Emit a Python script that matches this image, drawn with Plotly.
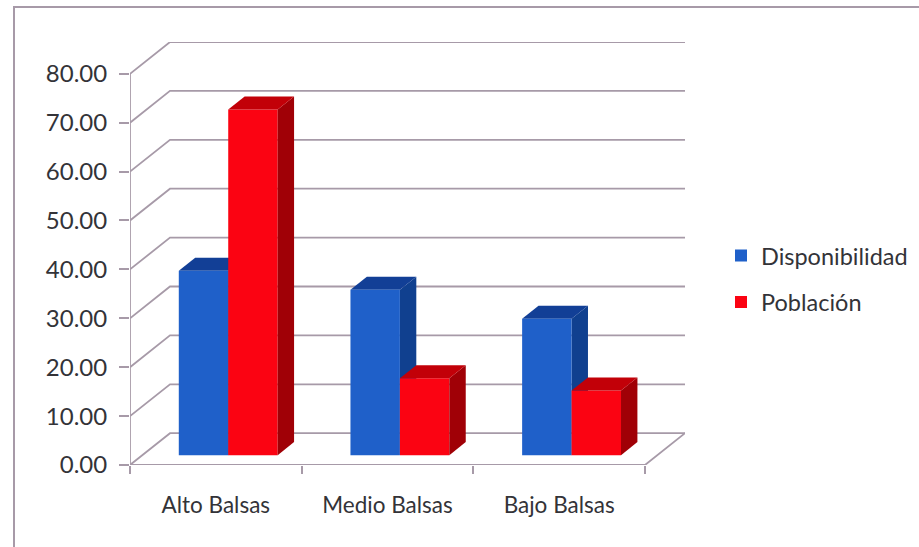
import plotly.graph_objects as go

categories = ["Alto Balsas", "Medio Balsas", "Bajo Balsas"]
disponibilidad = [37.7, 33.8, 27.9]
poblacion = [70.7, 15.7, 13.2]
y_ticks = [0, 10, 20, 30, 40, 50, 60, 70, 80]

# perspective of the chart, in axis units
DEPTH_X = 0.233
DEPTH_Y = 6.5
BAR_FRONT = 0.31
BAR_BACK = 0.72
BAR_W = 0.288
GRID = "#a79aa8"
TEXT = "#333338"
X_RANGE = [-0.5, 2.5 + DEPTH_X]
Y_RANGE = [0, 80 + DEPTH_Y]
idx = list(range(len(categories)))

fig = go.Figure()


def line(xs, ys, color=GRID, width=1.8):
    fig.add_trace(go.Scatter(x=xs, y=ys, mode="lines", showlegend=False, hoverinfo="skip",
                             line=dict(color=color, width=width)))


# walls and gridlines
for v in y_ticks:
    line([-0.5, -0.5 + DEPTH_X, 2.5 + DEPTH_X], [v, v + DEPTH_Y, v + DEPTH_Y])
line([-0.5, -0.5], [0, 80])
line([-0.5, 2.5, 2.5 + DEPTH_X], [0, 0, DEPTH_Y])


def poly(xs, ys, color, axes):
    fig.add_trace(go.Scatter(x=xs + xs[:1], y=ys + ys[:1], mode="lines", fill="toself",
                             fillcolor=color, line=dict(width=0, color=color),
                             showlegend=False, hoverinfo="skip", xaxis=axes[0], yaxis=axes[1]))


def box_faces(values, left_shift, side_col, top_col, axes):
    for i, v in zip(idx, values):
        l = i + left_shift + BAR_FRONT * DEPTH_X
        r = l + BAR_W
        y0 = BAR_FRONT * DEPTH_Y
        t = y0 + v
        dx = (BAR_BACK - BAR_FRONT) * DEPTH_X
        dy = (BAR_BACK - BAR_FRONT) * DEPTH_Y
        poly([r, r + dx, r + dx, r], [y0, y0 + dy, t + dy, t], side_col, axes)
        poly([l, l + dx, r + dx, r], [t, t + dy, t + dy, t], top_col, axes)


# blue depth faces sit behind everything in front
box_faces(disponibilidad, -BAR_W, "#10408f", "#123f96", ("x", "y"))

# front faces
shift = [i + BAR_FRONT * DEPTH_X for i in idx]
base = [BAR_FRONT * DEPTH_Y] * len(idx)
fig.add_trace(go.Bar(x=shift, y=disponibilidad, base=base, width=BAR_W, offset=-BAR_W,
                     name="Disponibilidad", legendgroup="a", marker=dict(color="#1f60c9", line_width=0),
                     xaxis="x2", yaxis="y2"))
fig.add_trace(go.Bar(x=shift, y=poblacion, base=base, width=BAR_W, offset=0,
                     name="Población", legendgroup="b", marker=dict(color="#fb0312", line_width=0),
                     xaxis="x2", yaxis="y2"))
box_faces(poblacion, 0, "#a00006", "#c20008", ("x2", "y2"))

fig.update_layout(
    width=919, height=547, margin=dict(l=130, r=234, t=42, b=81.5, pad=0, autoexpand=False),
    paper_bgcolor="white", plot_bgcolor="rgba(0,0,0,0)", barmode="overlay",
    font=dict(family="Lato", color=TEXT),
    xaxis=dict(range=X_RANGE, tickvals=idx, ticktext=categories, ticks="outside", ticklen=20,
               tickcolor="rgba(0,0,0,0)", tickfont=dict(size=22.5), showgrid=False, zeroline=False,
               showline=False,
               minor=dict(tickvals=[-0.5, 0.5, 1.5, 2.5], ticks="outside", ticklen=8, tickcolor=GRID,
                          tickwidth=1.8, showgrid=False)),
    yaxis=dict(range=Y_RANGE, tickvals=y_ticks, tickformat=".2f", ticks="outside", ticklen=10,
               tickcolor=GRID, tickwidth=1.8, tickfont=dict(size=24), showgrid=False, zeroline=False,
               showline=False, ticklabelstandoff=7),
    xaxis2=dict(overlaying="x", matches="x", visible=False),
    yaxis2=dict(overlaying="y", matches="y", visible=False),
    legend=dict(x=(721 - 130) / 555, y=(465.5 - 234) / 423.5, xanchor="left", yanchor="top",
                font=dict(size=23.5), tracegroupgap=13, bgcolor="rgba(0,0,0,0)"),
    shapes=[dict(type="path", xref="paper", yref="paper",
                 path=f"M {(14 - 130) / 555} -0.2 L {(14 - 130) / 555} {(465.5 - 7) / 423.5} L 1.5 {(465.5 - 7) / 423.5}",
                 line=dict(color=GRID, width=2))],
)
fig.write_html("out.html", config={"displayModeBar": False},
               post_script="document.body.style.margin='0';")
